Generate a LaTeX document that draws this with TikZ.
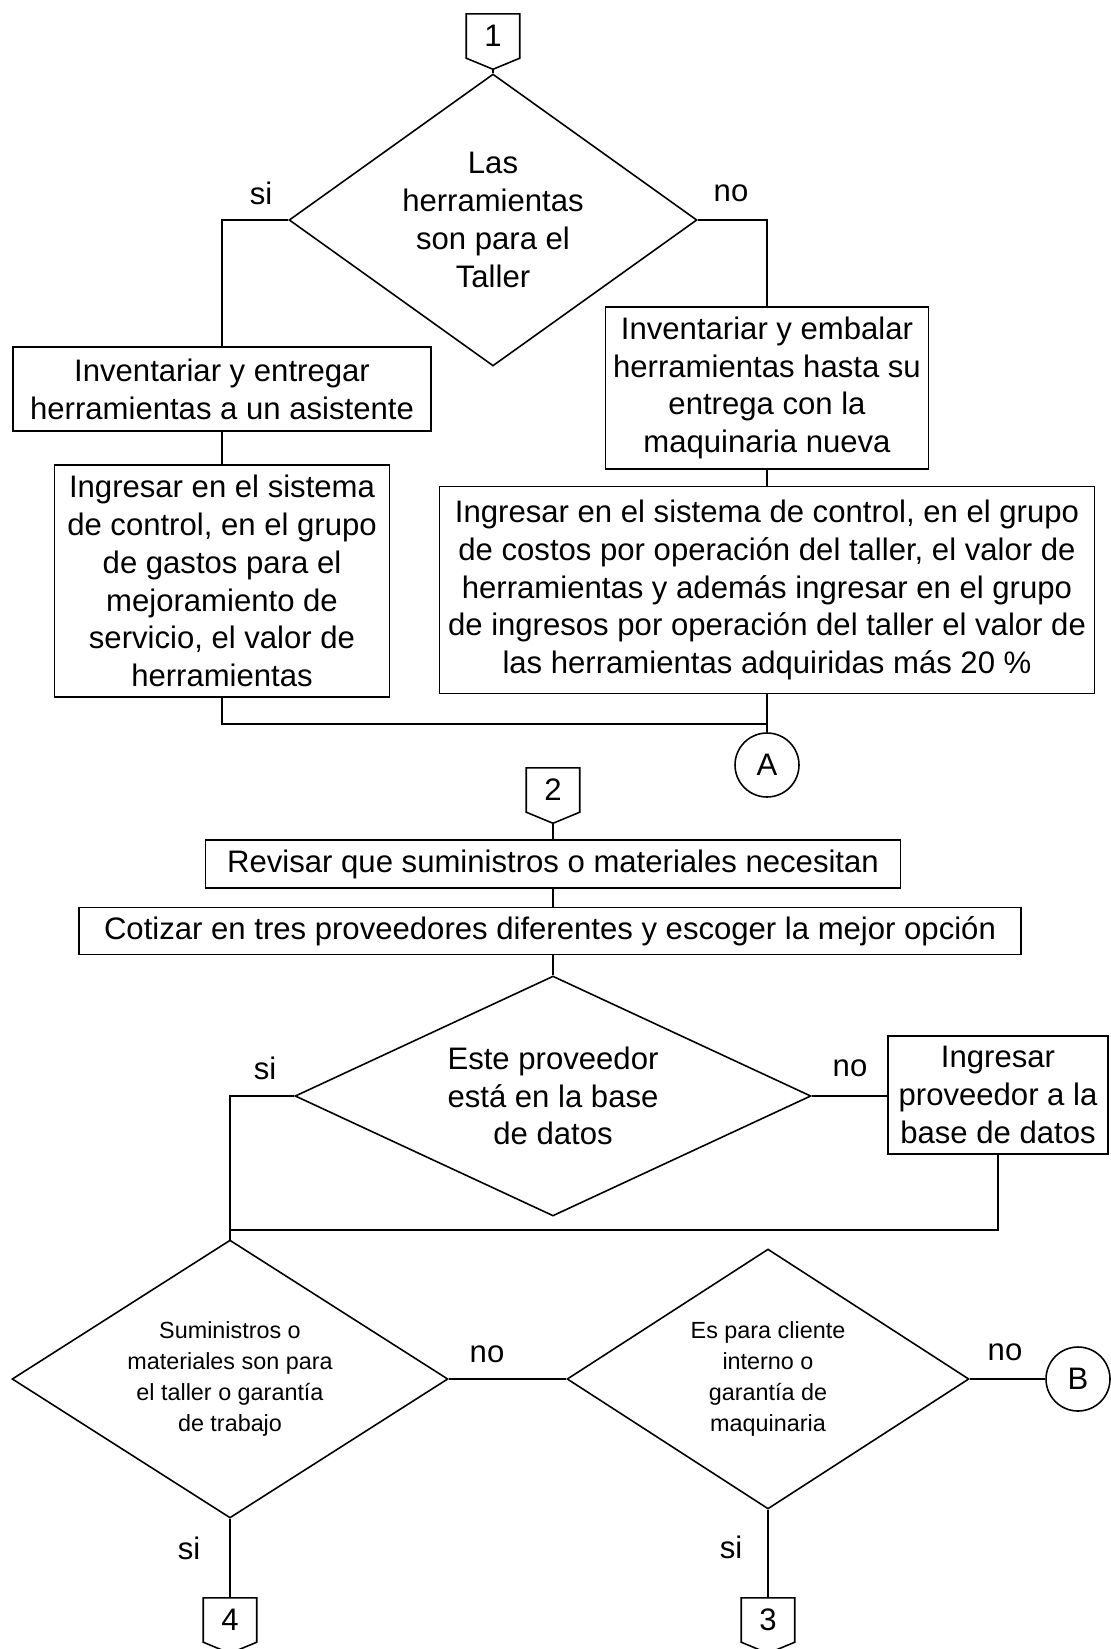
\documentclass[tikz,border=0pt]{standalone}
\usepackage{fontspec}
\setmainfont{Liberation Sans}
\usetikzlibrary{shapes.geometric,shapes.symbols,positioning}

\begin{document}
\begin{tikzpicture}[
                x=0.02cm, y=-0.02cm,
                line width=0.9pt,
                texto/.style={font=\fontsize{17.7}{21.5}\selectfont},
                textochico/.style={font=\fontsize{13.3}{17.5}\selectfont},
                caja/.style={texto, draw, align=center, inner sep=0pt},
                decision/.style={texto, diamond, draw, align=center, inner sep=0pt},
                conector/.style={
                        texto, draw, signal, signal to=south, signal from=nowhere,
                        signal pointer angle=135, inner sep=0pt,
                        minimum width=1.07cm, minimum height=0.96cm
                    },
                enlace/.style={texto, circle, draw, inner sep=0pt, minimum size=1.28cm},
                etiqueta/.style={texto}
            ]

            \useasboundingbox (0,0) rectangle (1110,1649);

            % Herramientas
            \node[conector] (c1) at (493,36) {1};
            \node[decision, minimum width=8.16cm, minimum height=5.84cm, shape aspect=1.4] (d1) at (493,220) {Las\\herramientas\\son para el\\Taller};
            \node[etiqueta] (si1) at (261,193) {si};
            \node[etiqueta] (no1) at (731,193) {no};

            \node[caja, minimum width=8.36cm, minimum height=1.68cm] (b1) at (222,389) {Inventariar y entregar\\herramientas a un asistente};
            \node[caja, minimum width=6.7cm, minimum height=4.64cm] (b2) at (222,581) {Ingresar en el sistema\\de control, en el grupo\\de gastos para el\\mejoramiento de\\servicio, el valor de\\herramientas};
            \node[caja, minimum width=6.46cm, minimum height=3.24cm] (b3) at (767,388) {Inventariar y embalar\\herramientas hasta su\\entrega con la\\maquinaria nueva};
            \node[caja, minimum width=13.1cm, minimum height=4.14cm] (b4) at (767,590) {Ingresar en el sistema de control, en el grupo\\de costos por operación del taller, el valor de\\herramientas y además ingresar en el grupo\\de ingresos por operación del taller el valor de\\las herramientas adquiridas más 20 \%};
            \node[enlace] (cA) at (767,765) {A};
            \coordinate (j1) at (767,724);

            \draw (c1.south) -- (d1.north);
            \draw (d1.west) -| (b1.north);
            \draw (d1.east) -| (b3.north);
            \draw (b1) -- (b2);
            \draw (b3) -- (b4);
            \draw (b2.south) |- (j1);
            \draw (b4.south) -- (cA.north);

            % Suministros
            \node[conector] (c2) at (553,790) {2};
            \node[caja, minimum width=13.9cm, minimum height=0.96cm] (b5) at (553,864) {Revisar que suministros o materiales necesitan};
            \node[caja, minimum width=18.84cm, minimum height=0.94cm] (b6) at (550,931) {Cotizar en tres proveedores diferentes y escoger la mejor opción};
            \node[decision, minimum width=10.32cm, minimum height=4.8cm, shape aspect=2.15] (d2) at (553,1096) {Este proveedor\\está en la base\\de datos};
            \node[etiqueta] (si2) at (265,1068) {si};
            \node[etiqueta] (no2) at (850,1068) {no};
            \node[caja, minimum width=4.4cm, minimum height=2.36cm] (b7) at (998,1095) {Ingresar\\proveedor a la\\base de datos};
            \coordinate (j2) at (230,1230);

            \draw (c2.south) -- (b5.north);
            \draw (b5.south) -- (b5.south |- b6.north);
            \draw (d2.north |- b6.south) -- (d2.north);
            \draw (d2.east) -- (d2.east -| b7.west);
            \draw (d2.west) -| (j2) -- (230,1240);
            \draw (b7.south) |- (j2);

            % Destino
            \node[decision, textochico, minimum width=8.72cm, minimum height=5.56cm, shape aspect=1.57] (d3) at (230,1379) {Suministros o\\materiales son para\\el taller o garantía\\de trabajo};
            \node[decision, textochico, minimum width=8.04cm, minimum height=5.2cm, shape aspect=1.55] (d4) at (768,1379) {Es para cliente\\interno o\\garantía de\\maquinaria};
            \node[etiqueta] (no3) at (487,1354) {no};
            \node[etiqueta] (no4) at (1005,1352) {no};
            \node[enlace] (cB) at (1078,1379) {B};
            \node[etiqueta] (si3) at (189,1548) {si};
            \node[etiqueta] (si4) at (731,1547) {si};
            \node[conector] (c4) at (230,1620) {4};
            \node[conector] (c3) at (768,1620) {3};

            \draw (j2) -- (d3.north);
            \draw (d3.east) -- (d4.west);
            \draw (d4.east) -- (cB.west);
            \draw (d3.south) -- (c4.north);
            \draw (d4.south) -- (c3.north);

        \end{tikzpicture}
\end{document}
